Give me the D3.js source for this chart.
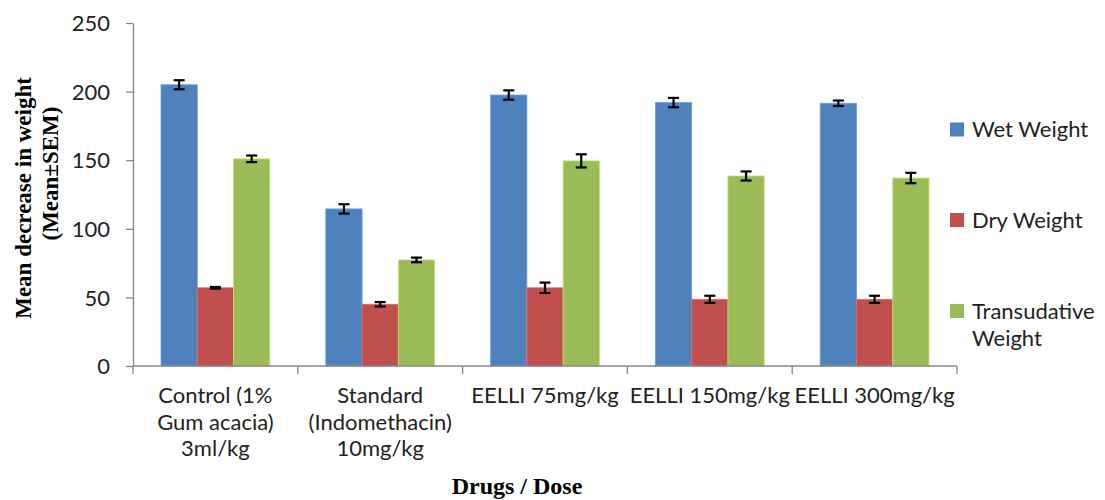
<!DOCTYPE html>
<html>
<head>
<meta charset="utf-8">
<script src="https://cdn.jsdelivr.net/npm/d3@7"></script>
<style>
  html, body { margin: 0; padding: 0; background: #fff; }
  svg { display: block; }
</style>
</head>
<body>
<svg id="chart" width="1105" height="500"></svg>
<script>
// ---- data ----
const categories = [
  "Control (1%\nGum acacia)\n3ml/kg",
  "Standard\n(Indomethacin)\n10mg/kg",
  "EELLI 75mg/kg",
  "EELLI 150mg/kg",
  "EELLI 300mg/kg"
];
const seriesNames = ["Wet Weight", "Dry Weight", "Transudative\nWeight"];
const wetWeight = [205, 114.5, 197.5, 192, 191.5];
const wetSem    = [3.3, 3.4, 3.4, 3.4, 2.0];
const dryWeight = [57, 45, 57, 48.6, 48.6];
const drySem    = [0.6, 1.6, 3.8, 2.6, 2.6];
const transWeight = [151, 77.3, 149.5, 138.5, 137];
const transSem    = [2.4, 1.7, 4.8, 3.3, 3.8];
const yTicks = [0, 50, 100, 150, 200, 250];
const colors = ["#4F81BD", "#C0504D", "#9BBB59"];

const values = [wetWeight, dryWeight, transWeight];
const sems = [wetSem, drySem, transSem];

// ---- layout ----
const svg = d3.select("#chart");
const plotLeft = 133, plotRight = 957, plotTop = 23, plotBottom = 366;
const font = "Lato, 'Open Sans', sans-serif";
const fs = 22;

const x0 = d3.scaleBand().domain(d3.range(categories.length))
  .range([plotLeft, plotRight]).paddingInner(0.34).paddingOuter(0.17);
const x1 = d3.scaleBand().domain(d3.range(seriesNames.length))
  .range([0, x0.bandwidth()]);
const y = d3.scaleLinear().domain([0, 250]).range([plotBottom, plotTop]);

svg.append("rect").attr("width", 1105).attr("height", 500).attr("fill", "#fff");

// bars
const groups = svg.append("g").selectAll("g")
  .data(d3.range(categories.length)).join("g")
  .attr("transform", i => `translate(${x0(i)},0)`);

groups.selectAll("rect")
  .data(i => d3.range(seriesNames.length).map(s => ({s, v: values[s][i], e: sems[s][i]})))
  .join("rect")
  .attr("x", d => x1(d.s))
  .attr("width", x1.bandwidth())
  .attr("y", d => y(d.v))
  .attr("height", d => y(0) - y(d.v))
  .attr("fill", d => colors[d.s])
  .attr("stroke", d => d3.color(colors[d.s]).brighter(0.6))
  .attr("stroke-width", 0.8);

// error bars
const eb = groups.selectAll("g.err")
  .data(i => d3.range(seriesNames.length).map(s => ({s, v: values[s][i], e: sems[s][i]})))
  .join("g").attr("class", "err")
  .attr("stroke", "#000").attr("stroke-width", 2.2);
const cx = d => x1(d.s) + x1.bandwidth() / 2;
eb.append("line").attr("x1", cx).attr("x2", cx)
  .attr("y1", d => y(d.v + d.e)).attr("y2", d => y(d.v - d.e));
eb.append("line").attr("x1", d => cx(d) - 5.5).attr("x2", d => cx(d) + 5.5)
  .attr("y1", d => y(d.v + d.e)).attr("y2", d => y(d.v + d.e));
eb.append("line").attr("x1", d => cx(d) - 5.5).attr("x2", d => cx(d) + 5.5)
  .attr("y1", d => y(d.v - d.e)).attr("y2", d => y(d.v - d.e));

// y axis
const yAxis = svg.append("g").attr("transform", `translate(${plotLeft},0)`)
  .call(d3.axisLeft(y).tickValues(yTicks).tickSize(7).tickPadding(16).tickSizeOuter(0));
yAxis.select(".domain").attr("stroke", "#868686").attr("stroke-width", 1.3);
yAxis.selectAll(".tick line").attr("stroke", "#868686").attr("stroke-width", 1.3);
yAxis.selectAll(".tick text").attr("font-family", font).attr("font-size", fs)
  .attr("fill", "#222").attr("dy", "0.35em");

// x axis line and ticks at category boundaries
const xAxisG = svg.append("g");
xAxisG.append("line").attr("x1", plotLeft).attr("x2", plotRight)
  .attr("y1", y(0)).attr("y2", y(0)).attr("stroke", "#868686").attr("stroke-width", 1.3);
const bounds = d3.range(categories.length + 1).map(i => plotLeft + i * x0.step());
xAxisG.selectAll("line.t").data(bounds).join("line").attr("class", "t")
  .attr("x1", d => d).attr("x2", d => d).attr("y1", y(0)).attr("y2", y(0) + 8)
  .attr("stroke", "#868686").attr("stroke-width", 1.3);

// category labels
const catG = svg.append("g").selectAll("text").data(categories).join("text")
  .attr("font-family", font).attr("font-size", fs).attr("fill", "#222")
  .attr("text-anchor", "middle")
  .attr("x", (d, i) => x0(i) + x0.bandwidth() / 2)
  .attr("y", 403);
catG.selectAll("tspan").data(d => d.split("\n")).join("tspan")
  .attr("x", function() { return d3.select(this.parentNode).attr("x"); })
  .attr("dy", (d, j) => j === 0 ? 0 : 26.5)
  .text(d => d);

// axis titles
const titleFont = "'Liberation Serif', 'Times New Roman', serif";
svg.append("text").attr("font-family", titleFont).attr("font-weight", "bold")
  .attr("font-size", 23).attr("text-anchor", "middle")
  .attr("transform", "translate(31,198) rotate(-90)")
  .text("Mean decrease in weight");
svg.append("text").attr("font-family", titleFont).attr("font-weight", "bold")
  .attr("font-size", 23).attr("text-anchor", "middle")
  .attr("transform", "translate(58,173.5) rotate(-90)")
  .text("(Mean±SEM)");
svg.append("text").attr("font-family", titleFont).attr("font-weight", "bold")
  .attr("font-size", 24).attr("text-anchor", "middle")
  .attr("x", 517).attr("y", 494)
  .text("Drugs / Dose");

// legend
const legendY = [129.5, 220, 311];
const leg = svg.append("g").selectAll("g").data(seriesNames).join("g")
  .attr("transform", (d, i) => `translate(950,${legendY[i]})`);
leg.append("rect").attr("x", 0).attr("y", -7).attr("width", 14).attr("height", 14)
  .attr("fill", (d, i) => colors[i]);
const lt = leg.append("text").attr("font-family", font).attr("font-size", fs)
  .attr("fill", "#222").attr("x", 22).attr("y", 0);
lt.selectAll("tspan").data(d => d.split("\n")).join("tspan")
  .attr("x", 22).attr("dy", (d, j) => j === 0 ? "0.35em" : 27)
  .text(d => d);
</script>
</body>
</html>
